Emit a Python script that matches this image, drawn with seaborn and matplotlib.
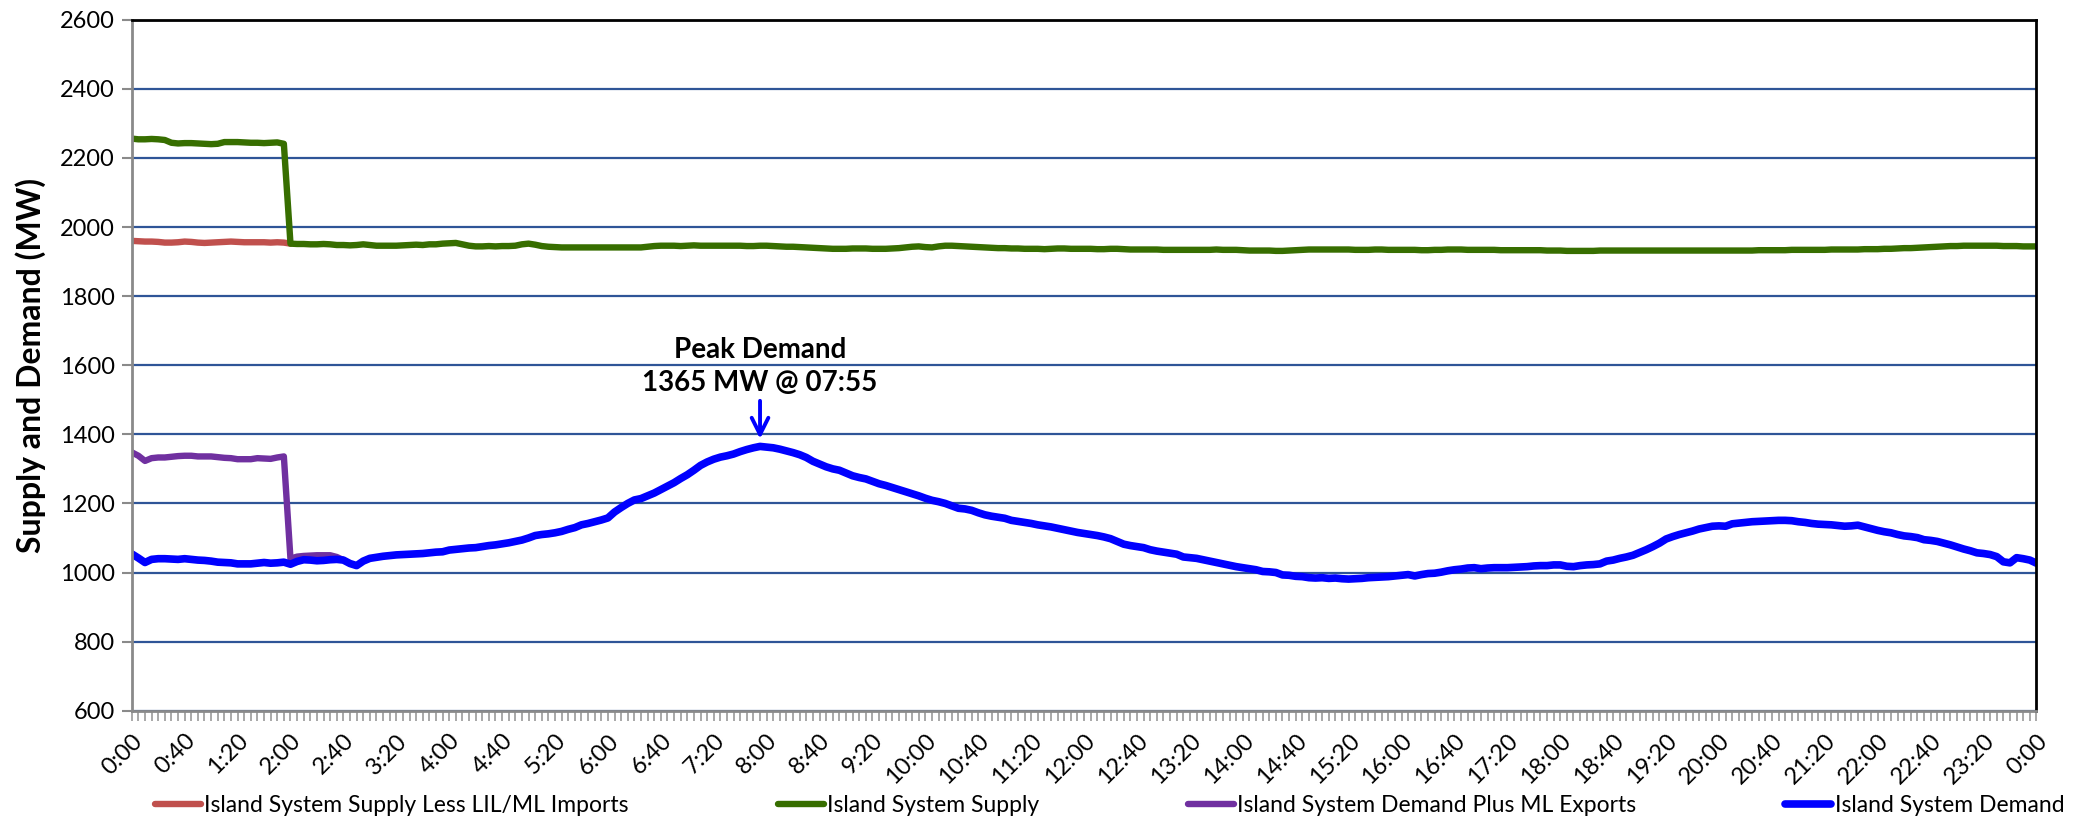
import numpy as np
import pandas as pd
import seaborn as sns
import matplotlib.pyplot as plt
from matplotlib.ticker import FixedLocator, MultipleLocator

# 5-minute readings, 0:00 .. 24:00 (289 points)
demand = [
    1054, 1042, 1029, 1038, 1040, 1040, 1039, 1038, 1040, 1038, 1036, 1035,
    1033, 1030, 1029, 1028, 1025, 1025, 1025, 1027, 1029, 1027, 1028, 1030,
    1024, 1032, 1037, 1036, 1034, 1035, 1037, 1038, 1036, 1026, 1020, 1033,
    1041, 1044, 1047, 1049, 1051, 1052, 1053, 1054, 1055, 1057, 1059, 1060,
    1065, 1067, 1069, 1071, 1072, 1075, 1078, 1080, 1083, 1086, 1090, 1094,
    1100, 1107, 1110, 1112, 1115, 1119, 1125, 1130, 1138, 1142, 1147, 1152,
    1158, 1175, 1188, 1200, 1210, 1214, 1222, 1230, 1240, 1250, 1260, 1272,
    1283, 1296, 1310, 1320, 1328, 1334, 1338, 1343, 1350, 1356, 1361, 1365,
    1363, 1361, 1357, 1352, 1347, 1341, 1333, 1322, 1314, 1306, 1300, 1296,
    1288, 1280, 1275, 1271, 1264, 1257, 1252, 1246, 1240, 1234, 1228, 1222,
    1215, 1209, 1205, 1200, 1193, 1186, 1184, 1180, 1173, 1167, 1163, 1160,
    1157, 1151, 1148, 1145, 1142, 1138, 1135, 1132, 1128, 1124, 1120, 1116,
    1113, 1110, 1107, 1103, 1098, 1090, 1082, 1078, 1075, 1072, 1066, 1062,
    1059, 1056, 1053, 1045, 1043, 1041, 1037, 1033, 1029, 1025, 1021, 1017,
    1014, 1011, 1008, 1003, 1002, 1000, 993, 992, 989, 988, 985, 984,
    985, 983, 984, 982, 981, 982, 983, 985, 986, 987, 988, 990,
    992, 994, 990, 994, 997, 998, 1001, 1005, 1008, 1010, 1013, 1014,
    1011, 1013, 1014, 1014, 1014, 1015, 1016, 1017, 1019, 1020, 1020, 1022,
    1022, 1018, 1017, 1020, 1022, 1023, 1025, 1033, 1036, 1041, 1045, 1050,
    1058, 1066, 1075, 1085, 1097, 1104, 1110, 1115, 1120, 1126, 1130, 1134,
    1135, 1134, 1141, 1143, 1145, 1147, 1148, 1149, 1150, 1151, 1151, 1150,
    1147, 1145, 1142, 1140, 1139, 1138, 1136, 1134, 1135, 1137, 1132, 1127,
    1122, 1118, 1115, 1110, 1106, 1104, 1101, 1095, 1093, 1090, 1085, 1080,
    1074, 1068, 1063, 1057, 1055, 1052, 1046, 1031, 1028, 1043, 1040, 1036,
    1027,
]

supply = [
    2256, 2254, 2254, 2255, 2254, 2252, 2244, 2242, 2243, 2243, 2242, 2241,
    2240, 2241, 2246, 2246, 2246, 2245, 2244, 2244, 2243, 2244, 2245, 2241,
    1952, 1951, 1951, 1950, 1950, 1951, 1950, 1948, 1948, 1947, 1948, 1950,
    1948, 1946, 1946, 1946, 1946, 1947, 1948, 1949, 1948, 1950, 1950, 1952,
    1953, 1954, 1950, 1946, 1944, 1944, 1945, 1944, 1945, 1945, 1946, 1950,
    1952, 1949, 1945, 1943, 1942, 1941, 1941, 1941, 1941, 1941, 1941, 1941,
    1941, 1941, 1941, 1941, 1941, 1941, 1943, 1945, 1946, 1946, 1946, 1945,
    1946, 1947, 1946, 1946, 1946, 1946, 1946, 1946, 1946, 1945, 1945, 1946,
    1946, 1945, 1944, 1943, 1943, 1942, 1941, 1940, 1939, 1938, 1937, 1937,
    1937, 1938, 1938, 1938, 1937, 1937, 1937, 1938, 1939, 1941, 1943, 1944,
    1942, 1941, 1944, 1946, 1946, 1945, 1944, 1943, 1942, 1941, 1940, 1939,
    1939, 1938, 1938, 1937, 1937, 1937, 1936, 1937, 1938, 1938, 1937, 1937,
    1937, 1937, 1936, 1936, 1937, 1937, 1936, 1935, 1935, 1935, 1935, 1935,
    1934, 1934, 1934, 1934, 1934, 1934, 1934, 1934, 1935, 1934, 1934, 1934,
    1933, 1932, 1932, 1932, 1932, 1931, 1931, 1932, 1933, 1934, 1935, 1935,
    1935, 1935, 1935, 1935, 1935, 1934, 1934, 1934, 1935, 1935, 1934, 1934,
    1934, 1934, 1934, 1933, 1933, 1934, 1934, 1935, 1935, 1935, 1934, 1934,
    1934, 1934, 1934, 1933, 1933, 1933, 1933, 1933, 1933, 1933, 1932, 1932,
    1932, 1931, 1931, 1931, 1931, 1931, 1932, 1932, 1932, 1932, 1932, 1932,
    1932, 1932, 1932, 1932, 1932, 1932, 1932, 1932, 1932, 1932, 1932, 1932,
    1932, 1932, 1932, 1932, 1932, 1932, 1933, 1933, 1933, 1933, 1933, 1934,
    1934, 1934, 1934, 1934, 1934, 1935, 1935, 1935, 1935, 1935, 1936, 1936,
    1936, 1937, 1937, 1938, 1939, 1939, 1940, 1941, 1942, 1943, 1944, 1945,
    1945, 1946, 1946, 1946, 1946, 1946, 1946, 1945, 1945, 1945, 1944, 1944,
    1944,
]

# these two only differ from supply / demand until about 2:00 - 2:40,
# afterwards they sit underneath the other lines
supply_less_imports = [
    1960, 1959, 1958, 1958, 1957, 1955, 1955, 1956, 1958, 1957, 1955, 1954,
    1955, 1956, 1957, 1958, 1957, 1956, 1956, 1956, 1956, 1955, 1956, 1955,
    1952,
]
demand_plus_exports = [
    1348, 1338, 1323, 1331, 1333, 1333, 1335, 1337, 1338, 1338, 1336, 1336,
    1336, 1334, 1332, 1331, 1328, 1328, 1328, 1331, 1330, 1329, 1333, 1336,
    1040, 1046, 1048, 1049, 1050, 1050, 1050, 1045, 1036,
]

tick_labels = [f"{(m // 60) % 24}:{m % 60:02d}" for m in range(0, 24 * 60 + 1, 40)]

steps = np.arange(len(demand))
df = pd.DataFrame({"step": steps, "demand": demand, "supply": supply})

sns.set_theme(style="white")
plt.rcParams["font.family"] = ["Lato", "DejaVu Sans"]

fig = plt.figure(figsize=(20.78, 8.24), dpi=100)
ax = fig.add_axes([0.0634, 0.1375, 0.9166, 0.8385])

lw = 4.6
sns.lineplot(x=np.arange(len(supply_less_imports)), y=supply_less_imports, ax=ax,
             color="#C0504D", lw=lw, label="Island System Supply Less LIL/ML Imports")
sns.lineplot(data=df, x="step", y="supply", ax=ax, color="#376E00", lw=lw,
             label="Island System Supply")
sns.lineplot(x=np.arange(len(demand_plus_exports)), y=demand_plus_exports, ax=ax,
             color="#7030A0", lw=lw, label="Island System Demand Plus ML Exports")
sns.lineplot(data=df, x="step", y="demand", ax=ax, color="#0000FF", lw=lw + 0.9,
             label="Island System Demand")

ax.set_xlim(0, len(demand) - 1)
ax.set_ylim(600, 2600)
ax.set_yticks(range(600, 2601, 200))
ax.yaxis.grid(True, color="#2F5597", lw=1.6)
ax.xaxis.grid(False)
ax.set_axisbelow(True)

ax.xaxis.set_major_locator(FixedLocator(range(0, len(demand), 8)))
ax.xaxis.set_minor_locator(MultipleLocator(1))
ax.set_xticklabels(tick_labels, rotation=45, ha="right", rotation_mode="anchor")
ax.tick_params(axis="x", which="both", direction="out", length=7, width=1.2,
               color="#9a9a9a", bottom=True, labelsize=17, pad=7)
ax.tick_params(axis="y", direction="out", length=7, width=1.5, color="#8a8a8a",
               left=True, labelsize=17, pad=5)

for side in ("left", "bottom"):
    ax.spines[side].set_color("#8a8a8a")
    ax.spines[side].set_linewidth(2)
for side in ("top", "right"):
    ax.spines[side].set_color("black")
    ax.spines[side].set_linewidth(2)

ax.set_xlabel("")
ax.set_ylabel("Supply and Demand (MW)", fontsize=23, fontweight="bold",
              color="black", labelpad=10)
for lab in ax.get_xticklabels() + ax.get_yticklabels():
    lab.set_color("black")

peak_i = int(np.argmax(demand))
ax.text(peak_i, 1510, "Peak Demand\n1365 MW @ 07:55", ha="center", va="bottom",
        fontsize=20, fontweight="bold", linespacing=1.35, color="black")
ax.annotate("", xy=(peak_i, demand[peak_i] + 14), xytext=(peak_i, 1505),
            arrowprops=dict(arrowstyle="->", color="#0000FF", lw=2.8,
                            mutation_scale=30))

leg = ax.legend(loc="center", bbox_to_anchor=(0.534, 0.022),
                bbox_transform=fig.transFigure, ncol=4, frameon=False, fontsize=16.5,
                handlelength=2.0, handletextpad=0.15, columnspacing=6.5,
                borderaxespad=0, borderpad=0)
for t in leg.get_texts():
    t.set_color("black")

fig.savefig("out.png", dpi=100)
